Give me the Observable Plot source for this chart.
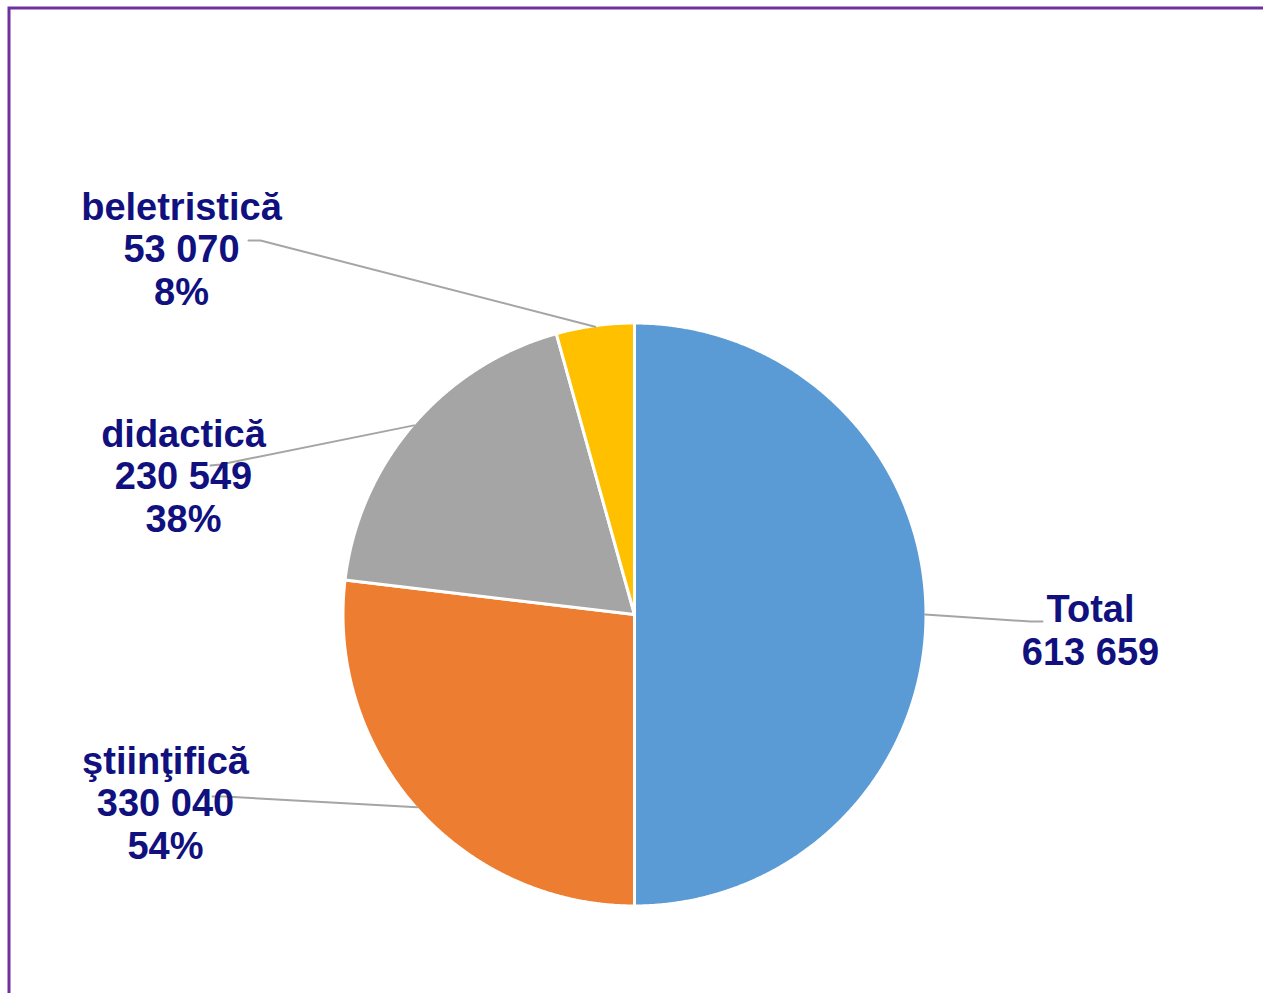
<!DOCTYPE html>
<html><head><meta charset="utf-8">
<script src="https://cdn.jsdelivr.net/npm/d3@7"></script>
<script src="https://cdn.jsdelivr.net/npm/@observablehq/plot@0.6"></script>
<style>html,body{margin:0;padding:0;background:#fff;overflow:hidden}</style>
</head><body><div id="chart"></div>
<script>
// ---- data ----
const categories = ["Total", "ştiinţifică", "didactică", "beletristică"];
const values = [613659, 330040, 230549, 53070];
const percentLabels = ["", "54%", "38%", "8%"];

// ---- layout / style ----
const W = 1263, H = 993;
const cx = 634, cy = 614, R = 291.5;
const colors = ["#5B9BD5", "#ED7D31", "#A5A5A5", "#FFC000"];
const labelPos = [
  {x: 1090, y: 664},
  {x: 165, y: 858},
  {x: 183, y: 531},
  {x: 181, y: 304}
];
const leaderStart = [
  [{x: 1042, y: 621}, {x: 1030, y: 621}],
  [{x: 212, y: 796}, {x: 224, y: 796}],
  [{x: 210, y: 465}, {x: 220, y: 464}],
  [{x: 248, y: 240}, {x: 260, y: 240}]
];

const fmt = d3.formatLocale({decimal: ",", thousands: " ", grouping: [3], currency: ["", ""]}).format(",d");
const arcs = d3.pie().sort(null).value(d => d)(values);

const slices = arcs.map(a => {
  const pts = [{x: cx, y: cy}];
  const n = Math.max(2, Math.ceil((a.endAngle - a.startAngle) / (Math.PI / 720)));
  for (let k = 0; k <= n; k++) {
    const t = a.startAngle + (a.endAngle - a.startAngle) * k / n;
    pts.push({x: cx + R * Math.sin(t), y: cy - R * Math.cos(t)});
  }
  pts.push({x: cx, y: cy});
  return pts;
});

const leaders = arcs.map((a, i) => {
  const m = (a.startAngle + a.endAngle) / 2;
  return [...leaderStart[i], {x: cx + (R - 1) * Math.sin(m), y: cy - (R - 1) * Math.cos(m)}];
});

const labels = categories.map((c, i) => ({
  x: labelPos[i].x, y: labelPos[i].y,
  text: [c, fmt(values[i]), percentLabels[i]].filter(s => s).join("\n")
}));

const marks = [
  Plot.rect([{x1: 9, x2: W + 20, y1: 8, y2: H + 20}], {
    x1: "x1", x2: "x2", y1: "y1", y2: "y2",
    fill: "none", stroke: "#7030A0", strokeWidth: 3
  })
];
slices.forEach((s, i) => marks.push(Plot.line(s, {
  x: "x", y: "y", fill: colors[i], stroke: "white", strokeWidth: 3, strokeLinejoin: "round"
})));
leaders.forEach(l => marks.push(Plot.line(l, {
  x: "x", y: "y", stroke: "#A5A5A5", strokeWidth: 2
})));
marks.push(Plot.text(labels, {
  x: "x", y: "y", text: "text",
  fontSize: 38, fontWeight: "bold",
  fontFamily: "'Liberation Sans', Arial, sans-serif",
  fill: "#10107F", textAnchor: "middle", lineAnchor: "bottom", lineHeight: 1.11
}));

const chart = Plot.plot({
  width: W, height: H, margin: 0,
  x: {domain: [0, W], range: [0, W], axis: null},
  y: {domain: [0, H], range: [0, H], axis: null},
  style: {background: "white", overflow: "hidden"},
  marks
});
document.getElementById("chart").appendChild(chart);
</script>
</body></html>
